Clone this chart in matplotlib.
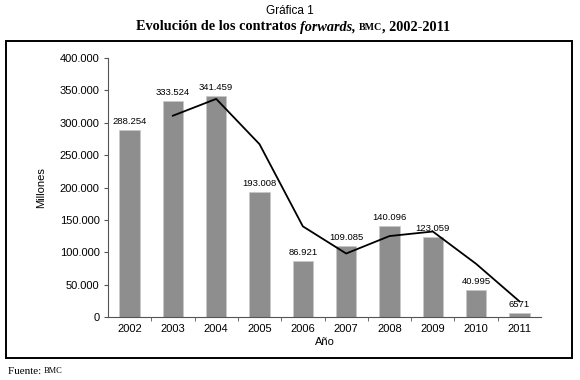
import matplotlib
matplotlib.use('Agg')
import matplotlib.pyplot as plt
from matplotlib.patches import Rectangle
from matplotlib.offsetbox import TextArea, HPacker, AnchoredOffsetbox

# datos
anios = ['2002', '2003', '2004', '2005', '2006', '2007', '2008', '2009', '2010', '2011']
contratos = [288254, 333524, 341459, 193008, 86921, 109085, 140096, 123059, 40995, 6571]
etiquetas = ['288.254', '333.524', '341.459', '193.008', '86.921', '109.085',
             '140.096', '123.059', '40.995', '6571']
# linea de tendencia (desde 2003)
anios_linea = anios[1:]
tendencia = [311000, 337000, 267000, 140000, 98000, 125000, 132000, 82000, 24000]

yticks = [0, 50000, 100000, 150000, 200000, 250000, 300000, 350000, 400000]
ytick_labels = ['0', '50.000', '100.000', '150.000', '200.000', '250.000',
                '300.000', '350.000', '400.000']

sans = 'Liberation Sans'
serif = 'Liberation Serif'

fig = plt.figure(figsize=(5.8, 3.8), dpi=100)
ax = fig.add_axes([0.186, 0.166, 0.747, 0.681])

x = list(range(len(anios)))
ax.bar(x, contratos, width=0.47, color='#8e8e8e', edgecolor='#c8c8c8', linewidth=0.5)
xl = [x[anios.index(a)] for a in anios_linea]
ax.plot(xl, tendencia, color='black', lw=1.3)

for xi, v, lab in zip(x, contratos, etiquetas):
    ax.annotate(lab, (xi, v), xytext=(0, 3), textcoords='offset points',
                ha='center', va='bottom', fontsize=6.8, family=sans)

ax.set_xlim(-0.5, len(anios) - 0.5)
ax.set_ylim(0, 400000)
ax.set_yticks(yticks)
ax.set_yticklabels(ytick_labels, family=sans, fontsize=8)
ax.set_xticks(x)
ax.set_xticklabels(anios, family=sans, fontsize=8)
ax.set_xticks([i + 0.5 for i in x[:-1]], minor=True)
ax.tick_params(axis='x', which='major', length=0, pad=5)
ax.tick_params(axis='x', which='minor', length=3, color='#555555')
ax.tick_params(axis='y', length=3, color='#555555', pad=3)
for s in ['top', 'right']:
    ax.spines[s].set_visible(False)
for s in ['left', 'bottom']:
    ax.spines[s].set_color('#555555')
    ax.spines[s].set_linewidth(0.8)

ax.set_ylabel('Millones', family=sans, fontsize=8, labelpad=10)
ax.set_xlabel('Año', family=sans, fontsize=8, labelpad=2)

# marco alrededor del grafico
fig.patches.append(Rectangle((6 / 580, 1 - 358 / 380), 566 / 580, 317 / 380,
                             transform=fig.transFigure, fill=False,
                             edgecolor='black', linewidth=1.4))

# titulos
fig.text(0.5, 1 - 11 / 380, 'Gráfica 1', ha='center', va='center',
         family=sans, fontsize=8.5)
partes = [
    TextArea('Evolución de los contratos ', textprops=dict(family=serif, weight='bold', fontsize=10.3)),
    TextArea('forwards,', textprops=dict(family=serif, weight='bold', style='italic', fontsize=10.3)),
    TextArea(' ', textprops=dict(family=serif, fontsize=10.3)),
    TextArea('BMC', textprops=dict(family=serif, weight='bold', fontsize=7.2)),
    TextArea(', 2002-2011', textprops=dict(family=serif, weight='bold', fontsize=10.3)),
]
caja = HPacker(children=partes, align='baseline', pad=0, sep=0)
anc = AnchoredOffsetbox(loc='center', child=caja, frameon=False, pad=0,
                        bbox_to_anchor=(293 / 580, 1 - 27 / 380),
                        bbox_transform=fig.transFigure, borderpad=0)
fig.add_artist(anc)

fig.text(8 / 580, 1 - 371 / 380, 'Fuente: ', ha='left', va='center',
         family=serif, fontsize=8)
fig.text(44 / 580, 1 - 371 / 380, 'BMC', ha='left', va='center',
         family=serif, fontsize=6)

fig.savefig('out.png', dpi=100)
